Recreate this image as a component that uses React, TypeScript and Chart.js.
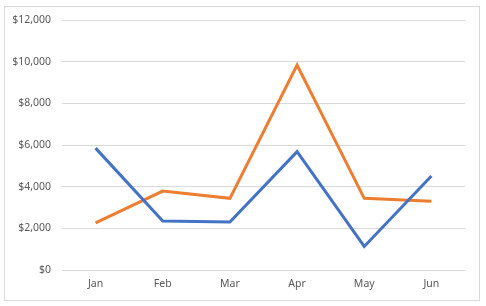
import React, { useEffect, useRef } from "react";
import { Chart, registerables } from "chart.js";

Chart.register(...registerables);

const months = ["Jan", "Feb", "Mar", "Apr", "May", "Jun"];
const seriesBlue = [5850, 2350, 2300, 5680, 1130, 4510];
const seriesOrange = [2260, 3790, 3440, 9840, 3440, 3300];
const yTicks = [0, 2000, 4000, 6000, 8000, 10000, 12000];

const FONT = "'Noto Sans', sans-serif";

const framePlugin = {
  id: "frame",
  beforeDraw(chart: any) {
    const ctx = chart.ctx;
    ctx.save();
    ctx.fillStyle = "#ffffff";
    ctx.fillRect(0, 0, chart.width, chart.height);
    ctx.strokeStyle = "#d9d9d9";
    ctx.lineWidth = 1;
    ctx.strokeRect(4.5, 6.5, 475, 294);
    ctx.restore();
  },
};

export default function App() {
  const ref = useRef<HTMLCanvasElement>(null);
  useEffect(() => {
    document.body.style.margin = "0";
    const chart = new Chart(ref.current!, {
      type: "line",
      data: {
        labels: months,
        datasets: [
          {
            data: seriesBlue,
            borderColor: "#4472C4",
            backgroundColor: "#4472C4",
            borderWidth: 3,
            pointRadius: 0,
            tension: 0,
          },
          {
            data: seriesOrange,
            borderColor: "#ED7D31",
            backgroundColor: "#ED7D31",
            borderWidth: 3,
            pointRadius: 0,
            tension: 0,
          },
        ],
      },
      options: {
        animation: false,
        responsive: false,
        layout: { padding: { left: 0, right: 21, top: 20, bottom: 0 } },
        plugins: { legend: { display: false }, tooltip: { enabled: false } },
        scales: {
          x: {
            offset: true,
            grid: { display: false, drawTicks: false },
            border: { display: false },
            ticks: { color: "#595959", font: { family: FONT, size: 10.5 }, padding: 8 },
            afterFit: (s: any) => {
              s.height = 36;
            },
          },
          y: {
            min: 0,
            max: 12000,
            afterBuildTicks: (s: any) => {
              s.ticks = yTicks.map((v) => ({ value: v }));
            },
            grid: { color: "#d9d9d9", drawTicks: false },
            border: { display: false },
            ticks: {
              color: "#595959",
              font: { family: FONT, size: 10.5 },
              padding: 11,
              callback: (v: any) => "$" + Number(v).toLocaleString("en-US"),
            },
            afterFit: (s: any) => {
              s.width = 62;
            },
          },
        },
      },
      plugins: [framePlugin],
    });
    return () => chart.destroy();
  }, []);
  return (
    <div style={{ position: "absolute", left: 0, top: 0, width: 486, height: 306 }}>
      <canvas ref={ref} width={486} height={306} />
    </div>
  );
}
